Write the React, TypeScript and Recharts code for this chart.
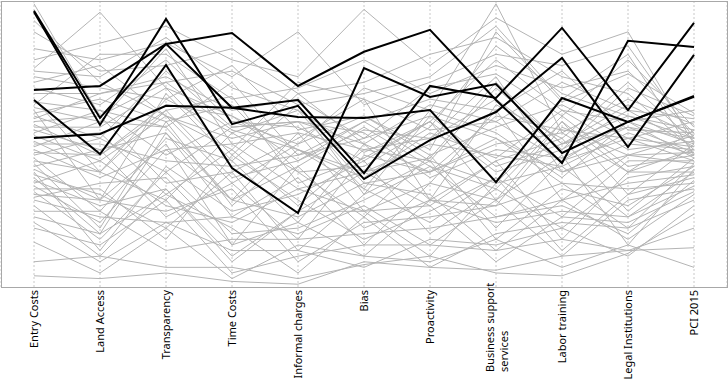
import { LineChart, Line, XAxis, YAxis, CartesianGrid } from 'recharts'

// parallel coordinates of PCI sub-indices, one row per province
const categories = [
  'Entry Costs', 'Land Access', 'Transparency', 'Time Costs', 'Informal charges', 'Bias',
  'Proactivity', 'Business support services', 'Labor training', 'Legal Institutions', 'PCI 2015',
]

const grayProvinces: number[][] = [
  [100, 60, 72, 55, 48, 40, 45, 72, 50, 60, 55],
  [94, 72, 60, 52, 58, 50, 40, 60, 55, 52, 58],
  [77, 97, 70, 60, 44, 55, 52, 66, 48, 70, 60],
  [76, 74, 88, 70, 62, 47, 58, 80, 62, 58, 62],
  [74, 70, 66, 78, 55, 60, 48, 90, 65, 75, 61],
  [72, 78, 60, 48, 72, 66, 55, 58, 72, 62, 59],
  [70, 64, 80, 58, 50, 70, 62, 100, 54, 66, 57],
  [68, 68, 74, 62, 66, 52, 70, 75, 60, 80, 56],
  [66, 40, 62, 67, 36, 45, 58, 30, 58, 40, 55],
  [65, 62, 56, 72, 46, 58, 66, 62, 76, 55, 54],
  [63, 58, 84, 50, 54, 48, 44, 70, 50, 64, 53],
  [62, 30, 68, 44, 64, 32, 60, 52, 40, 46, 53],
  [61, 66, 58, 64, 40, 42, 56, 85, 68, 60, 52],
  [60, 52, 76, 56, 58, 54, 38, 48, 45, 56, 52],
  [58, 60, 36, 40, 52, 66, 30, 64, 52, 72, 51],
  [57, 46, 64, 60, 48, 38, 54, 45, 62, 48, 51],
  [56, 56, 70, 46, 68, 50, 64, 58, 44, 58, 50],
  [55, 48, 54, 30, 42, 56, 42, 34, 58, 32, 50],
  [54, 62, 46, 58, 56, 44, 58, 40, 48, 62, 49],
  [53, 44, 60, 36, 50, 60, 46, 56, 64, 52, 49],
  [52, 54, 32, 48, 28, 48, 52, 74, 40, 50, 48],
  [51, 40, 66, 54, 62, 36, 40, 50, 54, 40, 48],
  [50, 50, 44, 42, 46, 52, 60, 42, 50, 56, 47],
  [49, 58, 56, 30, 54, 26, 36, 62, 30, 46, 47],
  [48, 38, 48, 50, 34, 40, 50, 46, 42, 54, 46],
  [47, 46, 62, 38, 44, 58, 44, 36, 60, 42, 46],
  [46, 52, 40, 56, 58, 34, 62, 54, 38, 58, 45],
  [45, 26, 52, 44, 22, 50, 30, 44, 52, 26, 45],
  [44, 40, 30, 54, 40, 24, 46, 20, 44, 52, 44],
  [43, 20, 58, 28, 48, 34, 22, 38, 24, 44, 44],
  [42, 48, 24, 36, 16, 46, 40, 52, 36, 20, 43],
  [41, 30, 50, 14, 42, 20, 30, 28, 56, 46, 43],
  [40, 12, 42, 26, 32, 44, 18, 34, 20, 38, 42],
  [39, 32, 20, 40, 12, 32, 44, 16, 34, 28, 42],
  [38, 18, 54, 24, 38, 14, 36, 30, 46, 14, 41],
  [37, 28, 34, 8, 26, 40, 28, 44, 16, 40, 40],
  [36, 44, 28, 22, 34, 26, 10, 36, 42, 24, 40],
  [35, 22, 48, 30, 24, 36, 32, 12, 30, 36, 39],
  [34, 34, 16, 46, 30, 16, 26, 38, 12, 32, 38],
  [33, 16, 40, 18, 20, 30, 42, 24, 28, 18, 37],
  [32, 30, 26, 34, 8, 22, 24, 28, 36, 34, 36],
  [31, 36, 38, 14, 22, 10, 30, 22, 26, 24, 35],
  [30, 24, 22, 24, 18, 28, 14, 30, 10, 30, 34],
  [28, 10, 34, 10, 26, 26, 28, 8, 24, 22, 33],
  [26, 26, 12, 16, 16, 18, 20, 24, 30, 16, 32],
  [24, 18, 32, 20, 4, 24, 6, 18, 22, 20, 30],
  [22, 8, 22, 12, 12, 6, 16, 14, 20, 10, 28],
  [20, 14, 30, 4, 10, 14, 14, 12, 16, 12, 13],
  [15, 4, 20, 2, 14, 10, 8, 16, 6, 14, 6],
  [8, 10, 6, 6, 2, 7, 10, 4, 3, 11, 25],
  [3, 2, 4, 1, 0, 8, 6, 5, 10, 12, 20],
  [80, 86, 92, 80, 74, 98, 78, 95, 82, 90, 50],
  [84, 80, 86, 74, 90, 64, 72, 82, 78, 85, 52],
  [90, 76, 78, 84, 68, 72, 82, 88, 74, 68, 48],
  [64, 82, 82, 66, 70, 80, 68, 78, 70, 76, 54],
  [59, 68, 72, 76, 64, 68, 74, 92, 66, 82, 46],
]

const highlightedProvinces: number[][] = [
  [97.5, 59.3, 85.7, 62.9, 65.7, 39.6, 70.7, 66.4, 91.4, 62.1, 93.2],
  [97.1, 56.8, 94.6, 57.1, 63.6, 37.5, 51.4, 61.4, 80.7, 48.9, 81.8],
  [69.3, 70.7, 85.7, 89.6, 70.7, 82.9, 90.7, 65.7, 43.2, 86.8, 84.6],
  [65.7, 46.4, 78.2, 41.4, 25.4, 77.1, 66.8, 71.4, 46.8, 57.9, 66.8],
  [52.1, 53.6, 63.6, 62.9, 59.6, 59.3, 62.1, 36.4, 66.4, 57.9, 67.1],
]

const data = categories.map((name, i) => {
  const row: any = { name }
  grayProvinces.forEach((p, j) => { row[`g${j}`] = p[i] })
  highlightedProvinces.forEach((p, j) => { row[`h${j}`] = p[i] })
  return row
})

const labelFont = { fontFamily: '"Noto Sans", sans-serif', fontSize: 11, fill: '#000' }

const AxisLabel = ({ x, payload }: any) => {
  const top = 290
  if (payload.value === 'Business support services') {
    return (
      <g transform={`translate(${x}, 372) rotate(-90)`}>
        <text x={0} y={-2} textAnchor="start" style={labelFont}>Business support</text>
        <text x={0} y={12} textAnchor="start" style={labelFont}>services</text>
      </g>
    )
  }
  return (
    <g transform={`translate(${x}, ${top}) rotate(-90)`}>
      <text x={0} y={4} textAnchor="end" style={labelFont}>{payload.value}</text>
    </g>
  )
}

export default function App() {
  return (
    <div style={{ position: 'relative', width: 728, height: 381 }}>
      <style>{'body{margin:0}'}</style>
      <LineChart width={728} height={381} data={data} margin={{ top: 1, right: 1, bottom: 4, left: 1 }}>
        <CartesianGrid horizontal={false} stroke="#c8c8c8" strokeDasharray="2 2" />
        <XAxis
          dataKey="name"
          interval={0}
          height={90}
          padding={{ left: 33, right: 33 }}
          axisLine={false}
          tickLine={false}
          tick={<AxisLabel />}
        />
        <YAxis hide domain={[-1, 101]} />
        {grayProvinces.map((_, j) => (
          <Line key={`g${j}`} dataKey={`g${j}`} type="linear" stroke="#b4b4b4" strokeWidth={1}
            dot={false} activeDot={false} isAnimationActive={false} />
        ))}
        {highlightedProvinces.map((_, j) => (
          <Line key={`h${j}`} dataKey={`h${j}`} type="linear" stroke="#000" strokeWidth={2}
            dot={false} activeDot={false} isAnimationActive={false} />
        ))}
      </LineChart>
      <div style={{
        position: 'absolute', left: 1, top: 1, width: 725, height: 285,
        border: '1px solid #a8a8a8', pointerEvents: 'none',
      }} />
    </div>
  )
}
